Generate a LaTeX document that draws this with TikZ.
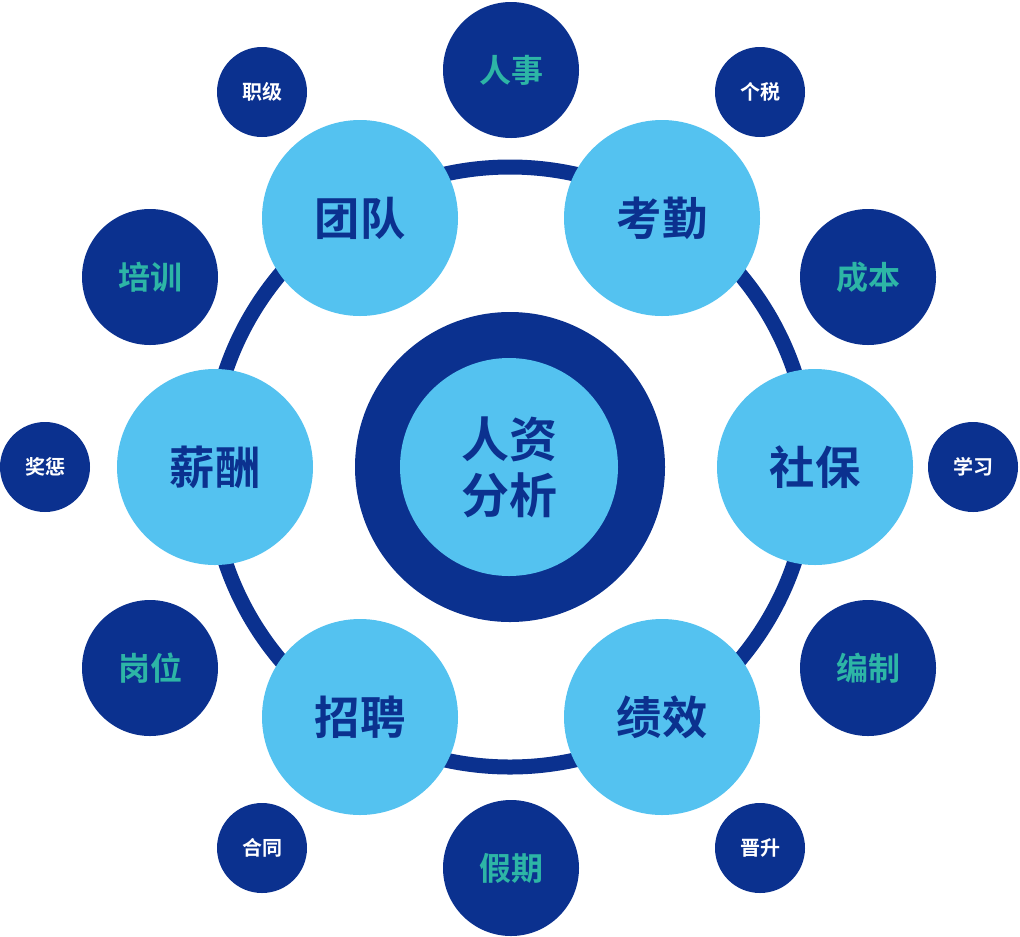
\documentclass[tikz,border=0pt]{standalone}
\usepackage{fontspec}
\newfontfamily\cjk{Noto Sans CJK SC Bold}
\definecolor{dblue}{HTML}{0B318F}
\definecolor{lblue}{HTML}{54C2F0}
\definecolor{teal}{HTML}{2DB5A6}
\begin{document}
\begin{tikzpicture}[x=0.75pt,y=-0.75pt,
  light/.style={circle,fill=lblue,minimum size=196*0.75pt,inner sep=0pt,text=dblue,font=\cjk\fontsize{34}{38}\selectfont},
  mid/.style={circle,fill=dblue,minimum size=136*0.75pt,inner sep=0pt,text=teal,font=\cjk\fontsize{24}{28}\selectfont},
  small/.style={circle,fill=dblue,minimum size=90*0.75pt,inner sep=0pt,text=white,font=\cjk\fontsize{15}{18}\selectfont}]
\useasboundingbox (0,0) rectangle (1020,936);
\draw[dblue,line width=15*0.75pt] (510,467) circle[radius=300*0.75pt];
\node[circle,fill=dblue,minimum size=310*0.75pt,inner sep=0pt] (core) at (510,467) {};
\node[circle,fill=lblue,minimum size=218*0.75pt,inner sep=0pt,text=dblue,align=center,
  font=\cjk\fontsize{36}{42}\selectfont] (c) at (509,467) {人资\\分析};
\node[light] (a) at (360,218) {团队};
\node[light] (b) at (662,218) {考勤};
\node[light] (d) at (815,467) {社保};
\node[light] (e) at (662,717) {绩效};
\node[light] (f) at (360,717) {招聘};
\node[light] (g) at (215,467) {薪酬};
\node[mid] (m1) at (511,70) {人事};
\node[mid] (m2) at (868,277) {成本};
\node[mid] (m3) at (868,668) {编制};
\node[mid] (m4) at (511,868) {假期};
\node[mid] (m5) at (150,668) {岗位};
\node[mid] (m6) at (150,277) {培训};
\node[small] (s1) at (262,92) {职级};
\node[small] (s2) at (760,92) {个税};
\node[small] (s3) at (973,467) {学习};
\node[small] (s4) at (760,848) {晋升};
\node[small] (s5) at (262,848) {合同};
\node[small] (s6) at (45,467) {奖惩};
\end{tikzpicture}
\end{document}
